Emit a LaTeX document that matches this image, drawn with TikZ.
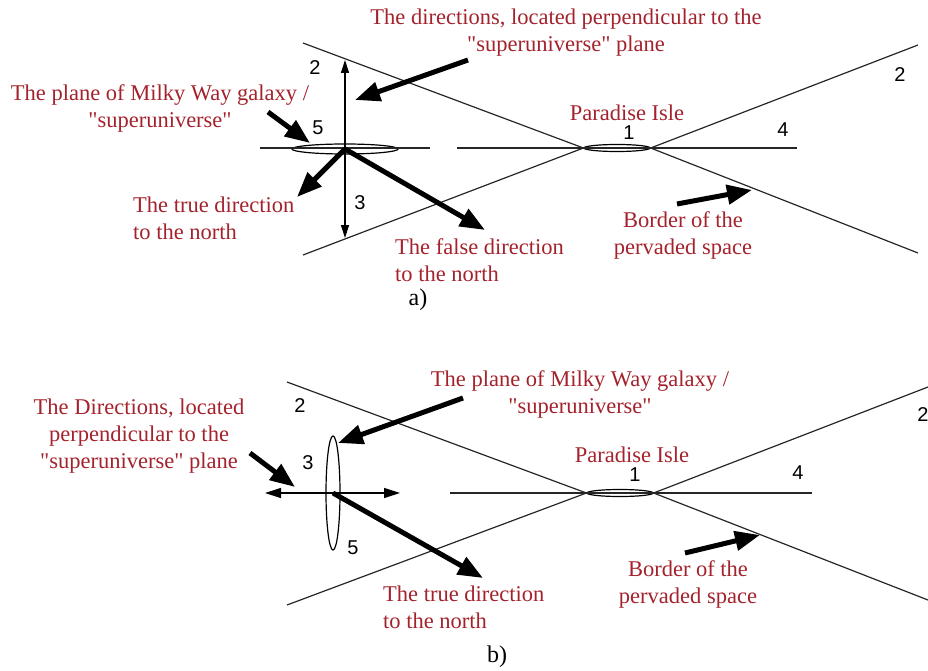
\documentclass[tikz,border=0pt]{standalone}
\usepackage{fontspec}
\setmainfont{Liberation Serif}
\newfontfamily\numfont{Liberation Sans}
\usetikzlibrary{arrows.meta,shapes.geometric}
\definecolor{lbl}{HTML}{A3222C}
\newcommand\qt[1]{\textquotedbl#1\textquotedbl}
\tikzset{
  bline/.style={line width=1.2pt,draw=black!85},
  parr/.style={line width=1.2pt,-{Triangle[length=13pt,width=8pt]}},
  pparr/.style={line width=1.2pt,{Triangle[length=16pt,width=10pt]}-{Triangle[length=16pt,width=10pt]}},
  barr/.style={line width=5pt,-{Triangle[length=25pt,width=19pt]}},
  lab/.style={font=\fontsize{22.5}{27}\selectfont,text=lbl,align=center,inner sep=0pt},
  num/.style={font=\numfont\fontsize{20}{20}\selectfont,inner sep=0pt},
  subcap/.style={font=\fontsize{24}{24}\selectfont,inner sep=0pt},
  gal/.style={draw,ellipse,line width=1.2pt,inner sep=0pt},
}
\begin{document}
\begin{tikzpicture}[x=1pt,y=-1pt]
\useasboundingbox (0,0) rectangle (928,671);

% a) plane of the galaxy lies along the superuniverse plane
\node[gal,minimum width=106,minimum height=10] (galA) at (345,149) {};
\node[gal,minimum width=66,minimum height=7] (isleA) at (617,148) {};
\coordinate (bA1) at (303,43); \coordinate (bA2) at (303,255);
\coordinate (bA3) at (918,45); \coordinate (bA4) at (918,253);
\coordinate (hA1) at (260,148); \coordinate (hA2) at (430,148);
\coordinate (hA3) at (457,148); \coordinate (hA4) at (797,148);
\coordinate (upA) at (345,60); \coordinate (dnA) at (345,238);
\draw[bline] (bA1) -- (isleA.west) -- (bA2);
\draw[bline] (bA3) -- (isleA.east) -- (bA4);
\draw[bline] (hA1) -- (hA2); \draw[bline] (hA3) -- (hA4);
\draw[parr] (galA.center) -- (upA);
\draw[parr] (galA.center) -- (dnA);

\node[lab] (perpA) at (566,33) {The directions, located perpendicular to the\\\qt{superuniverse} plane};
\node[lab] (planeA) at (160,108) {The plane of Milky Way galaxy /\\\qt{superuniverse}};
\node[lab,anchor=west,align=left] (trueA) at (133,218) {The true direction\\to the north};
\node[lab,anchor=west,align=left] (falseA) at (395,260) {The false direction\\to the north};
\node[lab] (isleAl) at (627,113) {Paradise Isle};
\node[lab] (bordA) at (683,235) {Border of the\\pervaded space};
\node[num] (n1A) at (629,133) {1};
\node[num] (n4A) at (783,130) {4};
\node[num] (n2Ar) at (900,75) {2};
\node[num] (n2Al) at (315,68) {2};
\node[num] (n5A) at (318,128) {5};
\node[num] (n3A) at (360,203) {3};
\node[subcap] (capA) at (418,300) {a)};

\coordinate (pA1) at (468,60); \coordinate (pA2) at (355,100);
\coordinate (gA1) at (268,112); \coordinate (gA2) at (310,143);
\coordinate (tA) at (297,197); \coordinate (fA) at (485,230);
\coordinate (sA1) at (677,204); \coordinate (sA2) at (752,190);
\draw[barr] (pA1) -- (pA2);
\draw[barr] (gA1) -- (gA2);
\draw[barr] (galA.center) -- (tA);
\draw[barr] (galA.center) -- (fA);
\draw[barr] (sA1) -- (sA2);

% b) plane of the galaxy stands across the superuniverse plane
\node[gal,minimum width=14,minimum height=114] (galB) at (333,493) {};
\node[gal,minimum width=66,minimum height=7] (isleB) at (620,493) {};
\coordinate (bB1) at (287,382); \coordinate (bB2) at (287,605);
\coordinate (bB3) at (928,387); \coordinate (bB4) at (928,600);
\coordinate (hB1) at (265,493); \coordinate (hB2) at (400,493);
\coordinate (hB3) at (450,493); \coordinate (hB4) at (812,493);
\draw[bline] (bB1) -- (isleB.west) -- (bB2);
\draw[bline] (bB3) -- (isleB.east) -- (bB4);
\draw[bline] (hB3) -- (hB4);
\draw[pparr] (hB1) -- (hB2);

\node[lab] (dirB) at (139,436) {The Directions, located\\perpendicular to the\\\qt{superuniverse} plane};
\node[lab] (planeB) at (580,394) {The plane of Milky Way galaxy /\\\qt{superuniverse}};
\node[lab,anchor=west,align=left] (trueB) at (383,607) {The true direction\\to the north};
\node[lab] (isleBl) at (632,455) {Paradise Isle};
\node[lab] (bordB) at (688,584) {Border of the\\pervaded space};
\node[num] (n1B) at (635,475) {1};
\node[num] (n4B) at (798,473) {4};
\node[num] (n2Br) at (923,415) {2};
\node[num] (n2Bl) at (300,406) {2};
\node[num] (n3B) at (308,463) {3};
\node[num] (n5B) at (353,548) {5};
\node[subcap] (capB) at (497,657) {b)};

\coordinate (dB1) at (250,453); \coordinate (dB2) at (295,487);
\coordinate (gB1) at (463,398); \coordinate (gB2) at (338,443);
\coordinate (tB) at (483,578);
\coordinate (sB1) at (685,553); \coordinate (sB2) at (760,535);
\draw[barr] (dB1) -- (dB2);
\draw[barr] (gB1) -- (gB2);
\draw[barr] (galB.center) -- (tB);
\draw[barr] (sB1) -- (sB2);
\end{tikzpicture}
\end{document}
